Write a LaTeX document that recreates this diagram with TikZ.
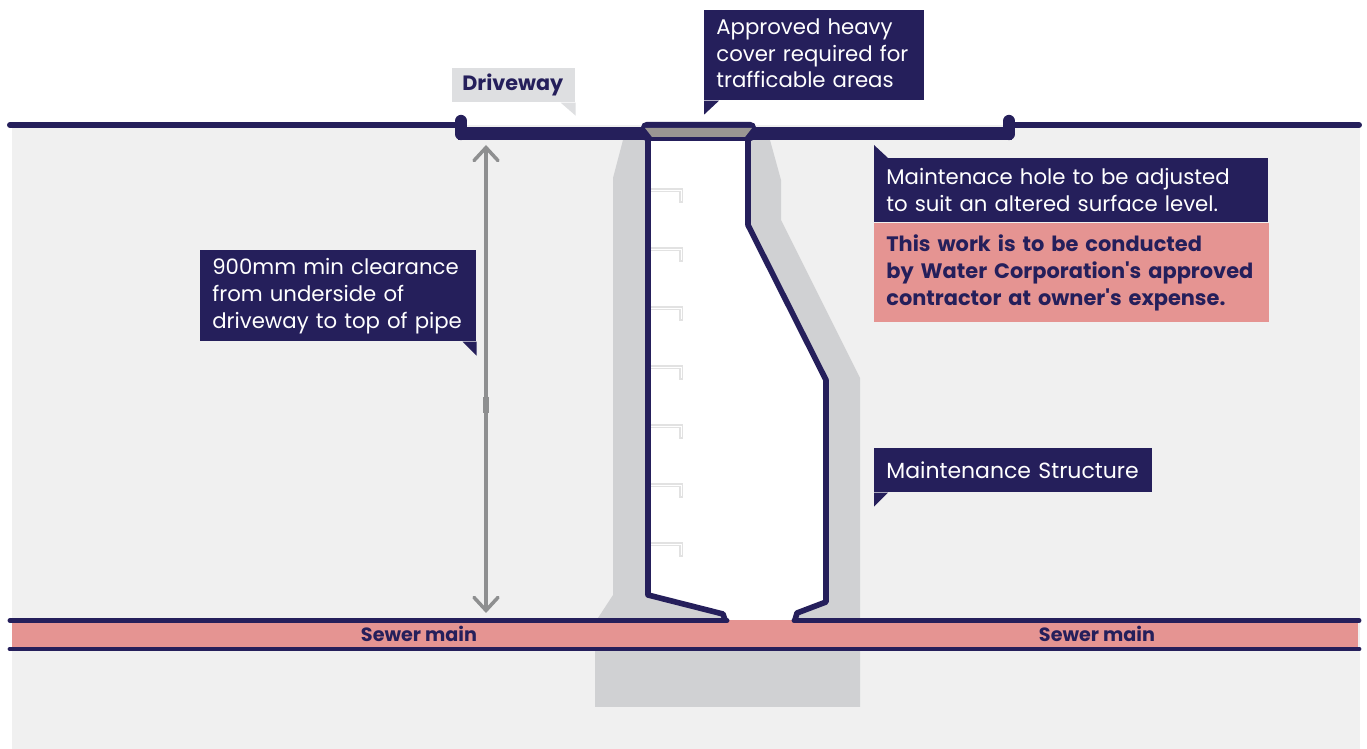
\documentclass[tikz,border=0pt]{standalone}
\usepackage{fontspec}
\setmainfont{Poppins}
\usetikzlibrary{arrows.meta,positioning,calc}
\definecolor{navy}{HTML}{251F5B}
\definecolor{salmon}{HTML}{E59492}
\definecolor{soil}{HTML}{F0F0F0}
\definecolor{concrete}{HTML}{D0D1D3}
\definecolor{tagGrey}{HTML}{DEDFE1}
\definecolor{coverGrey}{HTML}{9A9693}
\definecolor{dimGrey}{HTML}{8E8F90}
\definecolor{rungGrey}{HTML}{E2E2E2}
\newcommand{\tagfont}{\fontsize{12.1}{15.3}\selectfont}
\begin{document}
\begin{tikzpicture}[x=0.02cm, y=-0.02cm,
    tagbox/.style={fill=navy, text=white, anchor=north west, inner xsep=0.24cm, inner ysep=0pt, align=left, font=\tagfont},
    pipelabel/.style={text=navy, inner sep=0pt, font=\fontsize{10.9}{12}\selectfont\bfseries}]
    \useasboundingbox (0,0) rectangle (1367,749);
    \fill[white] (0,0) rectangle (1367,749);
    \fill[soil] (12,125) rectangle (1360,749);

    % Concrete
    \fill[concrete] (623,140) -- (613,178) -- (613,595) -- (598,618) -- (595,650) -- (595,707) -- (860,707)
        -- (860,378) -- (781,220) -- (781,180) -- (770,140) -- cycle;

    % Shaft
    \fill[white] (648,140) -- (648,595) -- (723,614) -- (726,621) -- (795,621) -- (797,613) -- (826,602)
        -- (826,380) -- (748,225) -- (748,140) -- cycle;
    \foreach \y in {190,249,308,367,426,485,544} {
        \draw[rungGrey, line width=1.9pt] (650,\y) -- (681,\y) -- (681,\y+13);
        \draw[white, line width=0.5pt] (650,\y) -- (681,\y) -- (681,\y+11);
    }

    % Sewer main
    \fill[salmon] (12,620) rectangle (1358,650);
    \draw[navy, line width=2.8pt, line cap=round] (10,620.5) -- (727,620.5);
    \draw[navy, line width=2.8pt, line cap=round] (794,620.5) -- (1359,620.5);
    \draw[navy, line width=2.8pt, line cap=round] (10,649) -- (1359,649);
    \node[pipelabel] (sewerLeft) at (419,634) {Sewer main};
    \node[pipelabel] (sewerRight) at (1097,634) {Sewer main};
    \draw[navy, line width=3.2pt, line join=round] (648,138) -- (648,595) -- (723,614) -- (725,620);
    \draw[navy, line width=3.2pt, line join=round] (795,620) -- (797,613) -- (826,602) -- (826,380) -- (748,225) -- (748,138);

    % Surface
    \draw[navy, line width=3.4pt, line cap=round] (10,125) -- (461,125);
    \draw[navy, line width=3.4pt, line cap=round] (1009,125) -- (1359,125);
    \draw[navy, line width=7.4pt, line join=round] (458,133.5) -- (1012,133.5);
    \draw[navy, line width=7pt, line cap=round] (461,121) -- (461,134);
    \draw[navy, line width=7pt, line cap=round] (1009,121) -- (1009,134);
    \fill[navy, rounded corners=3pt] (641,122) rectangle (756,141);
    \fill[coverGrey] (645,128) -- (752,128) -- (745,137) -- (652,137) -- cycle;

    % Clearance
    \coordinate (clearTop) at (486,145);
    \coordinate (clearBottom) at (486,613);
    \draw[dimGrey, line width=2pt, {Straight Barb[length=2.6mm, width=4.8mm, line cap=round]}-{Straight Barb[length=2.6mm, width=4.8mm, line cap=round]}] (clearTop) -- (clearBottom);
    \draw[dimGrey, line width=3pt] ($(clearTop)+(0,252)$) -- ($(clearTop)+(0,268)$);

    % Tags
    \node[tagbox, fill=tagGrey, text=navy, inner xsep=0.2cm, text width=2.06cm, minimum height=0.68cm, font=\fontsize{11.8}{15.3}\selectfont\bfseries] (drivewayTag) at (452,68) {Driveway};
    \fill[tagGrey] (drivewayTag.south east) -- ++(0,13) -- ++(-15,-13) -- cycle;

    \node[tagbox, text width=3.92cm, minimum height=1.8cm] (coverTag) at (704,10) {Approved heavy\\cover required for\\trafficable areas\rule[-2.4pt]{0pt}{0pt}};
    \fill[navy] (coverTag.south west) -- ++(0,14) -- ++(15,-14) -- cycle;

    \node[tagbox, text width=7.4cm, minimum height=1.28cm] (holeTag) at (874,158) {Maintenace hole to be adjusted\\to suit an altered surface level.};
    \fill[navy] (holeTag.north west) -- ++(0,-13) -- ++(14,13) -- cycle;
    \node[tagbox, fill=salmon, text=navy, text width=7.42cm, minimum height=1.98cm, font=\fontsize{11.9}{15.3}\selectfont\bfseries, below=0pt of holeTag.south west, anchor=north west] (ownerTag) {This work is to be conducted\\by Water Corporation\textquotesingle s approved\\contractor at owner\textquotesingle s expense.};

    \node[tagbox, text width=5.04cm, minimum height=1.82cm] (clearTag) at (200,250) {900mm min clearance\\from underside of\\driveway to top of pipe};
    \fill[navy] (clearTag.south east) -- ++(0,14) -- ++(-14,-14) -- cycle;

    \node[tagbox, text width=5.08cm, minimum height=0.88cm, font=\fontsize{12.5}{15.3}\selectfont] (structureTag) at (874,448) {Maintenance Structure};
    \fill[navy] (structureTag.south west) -- ++(0,14) -- ++(14,-14) -- cycle;
\end{tikzpicture}
\end{document}
